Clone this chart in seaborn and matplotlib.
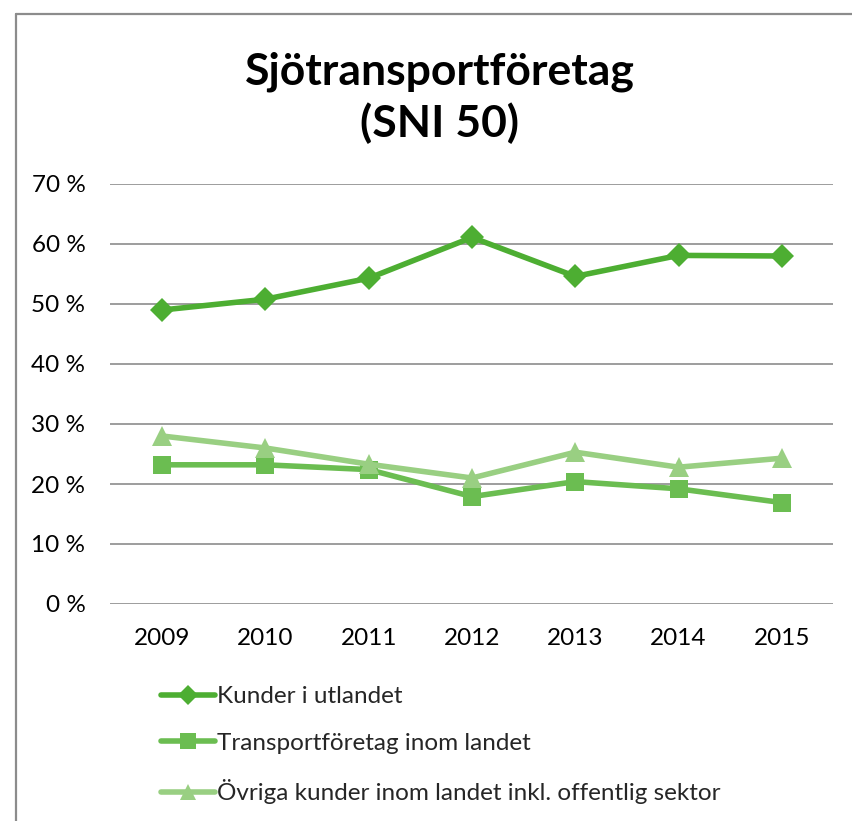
import numpy as np
import pandas as pd
import matplotlib
matplotlib.use("Agg")
import matplotlib.pyplot as plt
import seaborn as sns
from matplotlib.lines import Line2D

years = [2009, 2010, 2011, 2012, 2013, 2014, 2015]
kunder_utland = [49.0, 50.8, 54.3, 61.1, 54.6, 58.1, 58.0]
transport_inom = [23.2, 23.2, 22.4, 17.9, 20.4, 19.2, 16.9]
ovriga_inom = [28.0, 26.0, 23.3, 21.0, 25.3, 22.8, 24.3]
series_names = ["Kunder i utlandet", "Transportföretag inom landet",
                "Övriga kunder inom landet inkl. offentlig sektor"]
y_ticks = [0, 10, 20, 30, 40, 50, 60, 70]
title = "Sjötransportföretag\n(SNI 50)"

df = pd.DataFrame({
    "year": years * 3,
    "value": kunder_utland + transport_inom + ovriga_inom,
    "series": [series_names[0]] * 7 + [series_names[1]] * 7 + [series_names[2]] * 7,
})

sns.set_theme(style="white")
plt.rcParams["font.family"] = ["Lato", "DejaVu Sans"]

colors = ["#4DAE32", "#6BBD51", "#99CF82"]
palette = dict(zip(series_names, colors))
markers = dict(zip(series_names, ["D", "s", "^"]))
msizes = [12.5, 13.5, 14.5]

fig = plt.figure(figsize=(8.53, 8.21), dpi=100)
W, H = 853, 821
ax = fig.add_axes([110.5 / W, 1 - 604 / H, (833.5 - 110.5) / W, (604 - 184) / H])

for name, ms in zip(series_names, msizes):
    sub = df[df["series"] == name]
    sns.lineplot(data=sub, x="year", y="value", ax=ax, color=palette[name],
                 marker=markers[name], markersize=ms, linewidth=4,
                 markeredgewidth=0, legend=False)

ax.set_xlim(2008.5, 2015.5)
ax.set_ylim(0, 70)
ax.set_yticks(y_ticks)
ax.set_yticklabels([f"{t} %" for t in y_ticks], fontsize=17.5, color="#000000")
ax.set_xticks(years)
ax.set_xticklabels([str(y) for y in years], fontsize=17.5, color="#000000")
ax.tick_params(axis="x", length=0, pad=17)
ax.tick_params(axis="y", length=0, pad=18)
ax.set_xlabel("")
ax.set_ylabel("")
for s in ax.spines.values():
    s.set_visible(False)
ax.grid(axis="y", color="#8C8C8C", linewidth=1.2)
ax.set_axisbelow(True)

fig.text(440 / W, 1 - 98 / H, title, ha="center", va="center",
         fontsize=32, fontweight="bold", linespacing=1.3, color="#000000")

legend_sizes = [10, 11, 12]
handles = [Line2D([0], [0], color=palette[n], marker=markers[n], markersize=ms,
                  linewidth=4, markeredgewidth=0) for n, ms in zip(series_names, legend_sizes)]
fig.legend(handles, series_names, loc="upper left",
           bbox_to_anchor=(149 / W, 1 - 674 / H), frameon=False, fontsize=17.5,
           handlelength=2.2, handletextpad=0.08, labelspacing=1.05, borderpad=0)

# outer frame
fig.add_artist(Line2D([16 / W, 16 / W], [0, 1 - 14 / H], transform=fig.transFigure,
                      color="#8C8C8C", linewidth=1.6))
fig.add_artist(Line2D([16 / W, 1], [1 - 14 / H, 1 - 14 / H], transform=fig.transFigure,
                      color="#8C8C8C", linewidth=1.6))

fig.savefig("out.png", dpi=100)
